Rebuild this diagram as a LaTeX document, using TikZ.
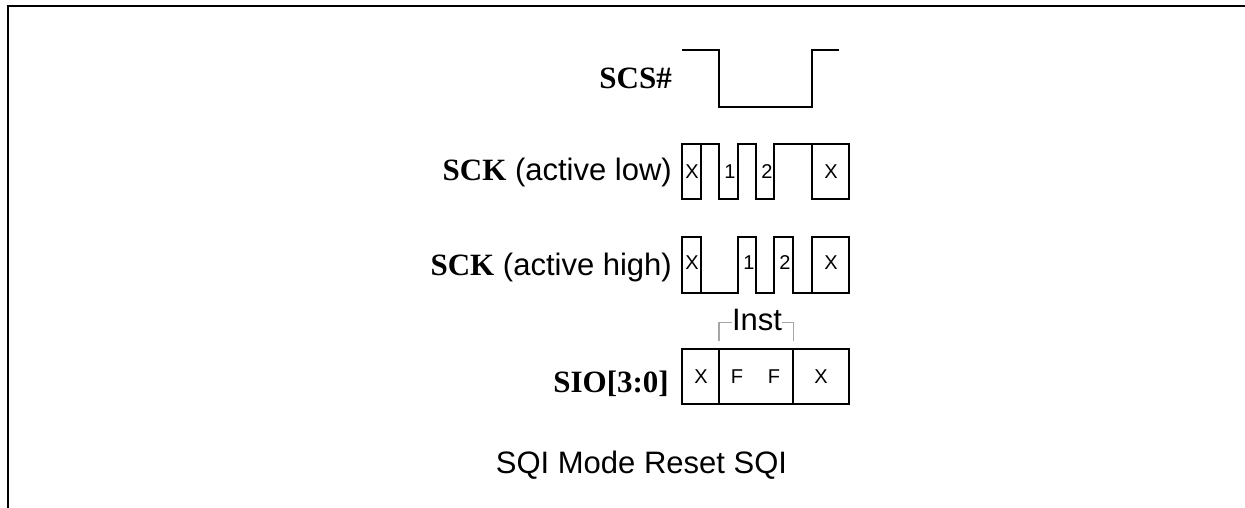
\documentclass[tikz,border=0pt]{standalone}
\usepackage{fontspec}
\setmainfont{Liberation Sans}
\newfontfamily\timesfont{Liberation Serif}
\tikzset{
  wave/.style={line width=1.6pt,line join=miter},
  frameline/.style={line width=1.8pt},
  sig/.style={anchor=base east,inner sep=0pt,font=\fontsize{31}{36}\selectfont},
  bit/.style={inner sep=0pt,font=\fontsize{20}{24}\selectfont},
  brk/.style={line width=1.6pt,color=black!35},
}
\newcommand{\sigb}[1]{{\timesfont\bfseries #1}}
\begin{document}
\begin{tikzpicture}[x=1pt,y=-1pt]
    \useasboundingbox (0,0) rectangle (1245,508);
    \draw[frameline] (7.8,508) -- (7.8,6) -- (1245,6);
    \node[sig] (scs) at (672,89) {\sigb{SCS\#}};
    \node[sig] (scklow) at (672,180) {\sigb{SCK} (active low)};
    \node[sig] (sckhigh) at (672,275) {\sigb{SCK} (active high)};
    \node[sig] (sio) at (669,392) {\sigb{SIO[3:0]}};
    \draw[wave] (682,50) -- (719,50) -- (719,107) -- (812,107) -- (812,50) -- (839,50);
    \draw[wave] (682,144) rectangle (701,199);
    \draw[wave] (701,144) -- (719,144) -- (719,199) -- (738,199) -- (738,144) -- (756,144) -- (756,199) -- (774,199) -- (774,144) -- (812,144);
    \draw[wave] (812,144) rectangle (849,199);
    \node[bit] (xa) at (692,172) {X};
    \node[bit] (onea) at (730,172) {1};
    \node[bit] (twoa) at (767,172) {2};
    \node[bit] (xb) at (831,172) {X};
    \draw[wave] (682,237) rectangle (701,293);
    \draw[wave] (701,293) -- (738,293) -- (738,237) -- (756,237) -- (756,293) -- (774,293) -- (774,237) -- (793,237) -- (793,293) -- (812,293);
    \draw[wave] (812,237) rectangle (849,293);
    \node[bit] (xc) at (692,263) {X};
    \node[bit] (oneb) at (749,263) {1};
    \node[bit] (twob) at (785,263) {2};
    \node[bit] (xd) at (831,263) {X};
    \node[anchor=base,inner sep=0pt,font=\fontsize{31}{36}\selectfont] (inst) at (757,330) {Inst};
    \coordinate (instl) at (719,341);
    \coordinate (instr) at (793.5,341);
    \draw[brk] (instl) |- ([yshift=-3pt]inst.west);
    \draw[brk] (instr) |- ([yshift=-3pt]inst.east);
    \draw[wave] (682,349) rectangle (849,404);
    \draw[wave] (719,349) -- (719,404);
    \draw[wave] (793,349) -- (793,404);
    \node[bit] (xe) at (701,377) {X};
    \node[bit] (fa) at (737,377) {F};
    \node[bit] (fb) at (774,377) {F};
    \node[bit] (xf) at (821,377) {X};
    \node[anchor=base,inner sep=0pt,font=\fontsize{31}{36}\selectfont] (caption) at (641.5,473) {SQI Mode Reset SQI};
\end{tikzpicture}
\end{document}
